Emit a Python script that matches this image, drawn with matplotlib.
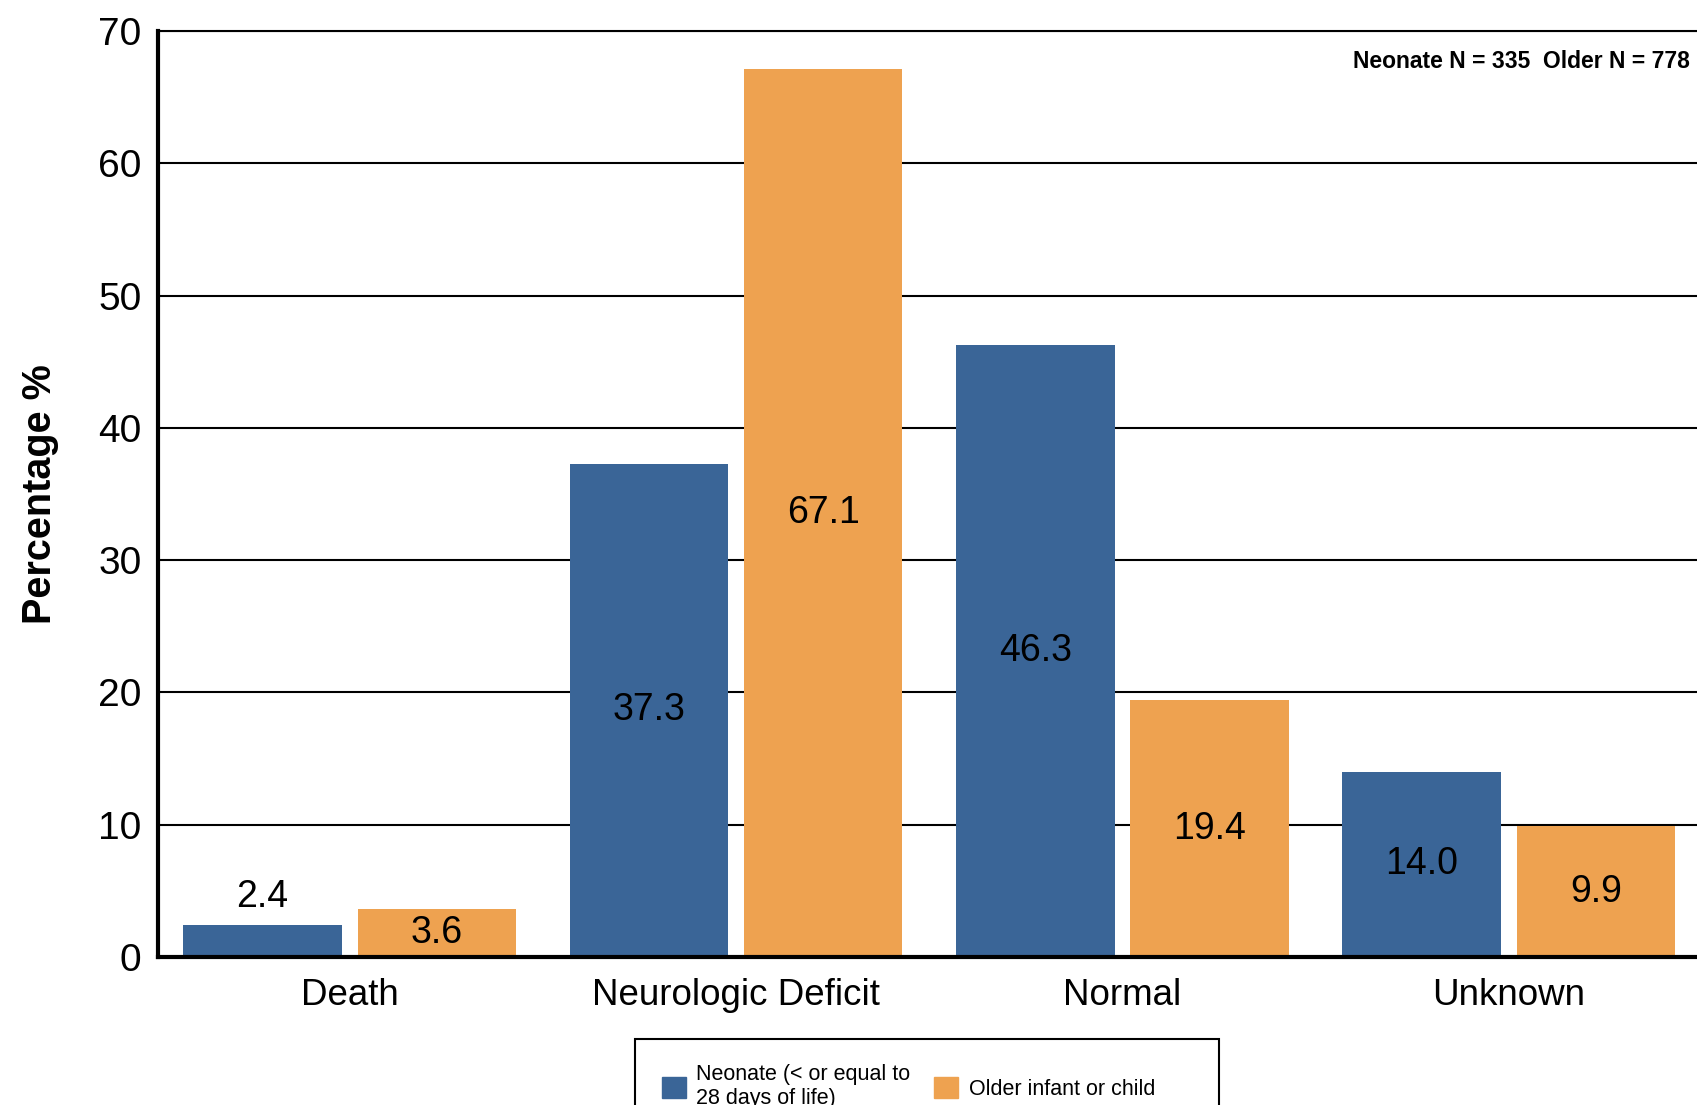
import numpy as np
import matplotlib
matplotlib.use("Agg")
import matplotlib.pyplot as plt
from matplotlib.patches import Patch, Rectangle

plt.rcParams['font.family'] = ['Liberation Sans', 'DejaVu Sans']

# ===== data =====
categories = ["Death", "Neurologic Deficit", "Normal", "Unknown"]
neonate = [2.4, 37.3, 46.3, 14.0]
older = [3.6, 67.1, 19.4, 9.9]
series_names = ["Neonate (< or equal to\n28 days of life)", "Older infant or child"]
note = "Neonate N = 335  Older N = 778"

blue = "#3A6597"
orange = "#EEA250"

W, H = 1697, 1105
fig = plt.figure(figsize=(W / 100, H / 100), dpi=100)
ax = fig.add_axes([158 / W, 1 - 957 / H, 1 - 158 / W, 926 / H])

x = np.arange(len(categories))
bw = 0.41
off = 0.2255

ax.bar(x - off, neonate, bw, color=blue, zorder=3)
ax.bar(x + off, older, bw, color=orange, zorder=3)

# value labels: centred in bar, except the short neonate death bar
lab_fs = 27
for i in range(len(categories)):
    v = neonate[i]
    if v < 5:
        ax.text(x[i] - off, v + 2.1, f"{v:.1f}", ha="center", va="center", fontsize=lab_fs, zorder=4)
    else:
        ax.text(x[i] - off, v / 2, f"{v:.1f}", ha="center", va="center", fontsize=lab_fs, zorder=4)
    v = older[i]
    ax.text(x[i] + off, v / 2, f"{v:.1f}", ha="center", va="center", fontsize=lab_fs, zorder=4)

ax.set_xlim(-0.496, 3.487)
ax.set_ylim(0, 70)
ax.set_yticks(np.arange(0, 71, 10))
ax.set_xticks(x)
ax.set_xticklabels(categories, fontsize=26.5)
ax.tick_params(axis="y", labelsize=28, length=0, pad=12)
ax.tick_params(axis="x", length=0, pad=15)

ax.grid(axis="y", color="black", linewidth=1.5, zorder=1)
ax.set_axisbelow(True)
ax.spines["right"].set_visible(False)
ax.spines["top"].set_linewidth(1.5)
ax.spines["left"].set_linewidth(3)
ax.spines["bottom"].set_linewidth(3)
ax.spines["bottom"].set_zorder(5)

ax.set_ylabel("Percentage %", fontsize=28.5, fontweight="bold", labelpad=28)

fig.text(1690 / W, 1 - 62 / H, note, ha="right", va="center", fontsize=16.5, fontweight="bold")

# legend box runs off the bottom edge, as in the original
fig.patches.append(Rectangle((635 / W, -0.1), 584 / W, 0.1 + 1 - 1039 / H,
                             transform=fig.transFigure, fill=False,
                             edgecolor="black", linewidth=1.5, clip_on=False))
handles = [Patch(color=blue), Patch(color=orange)]
leg = fig.legend(handles, series_names, loc="upper left",
                 bbox_to_anchor=(662 / W, 1 - 1064 / H),
                 bbox_transform=fig.transFigure, ncol=2,
                 fontsize=15.5, frameon=False, borderpad=0, borderaxespad=0,
                 handlelength=1.1, handleheight=1.1,
                 handletextpad=0.5, columnspacing=1.1, labelspacing=0.2)

fig.savefig("out.png", dpi=100)
